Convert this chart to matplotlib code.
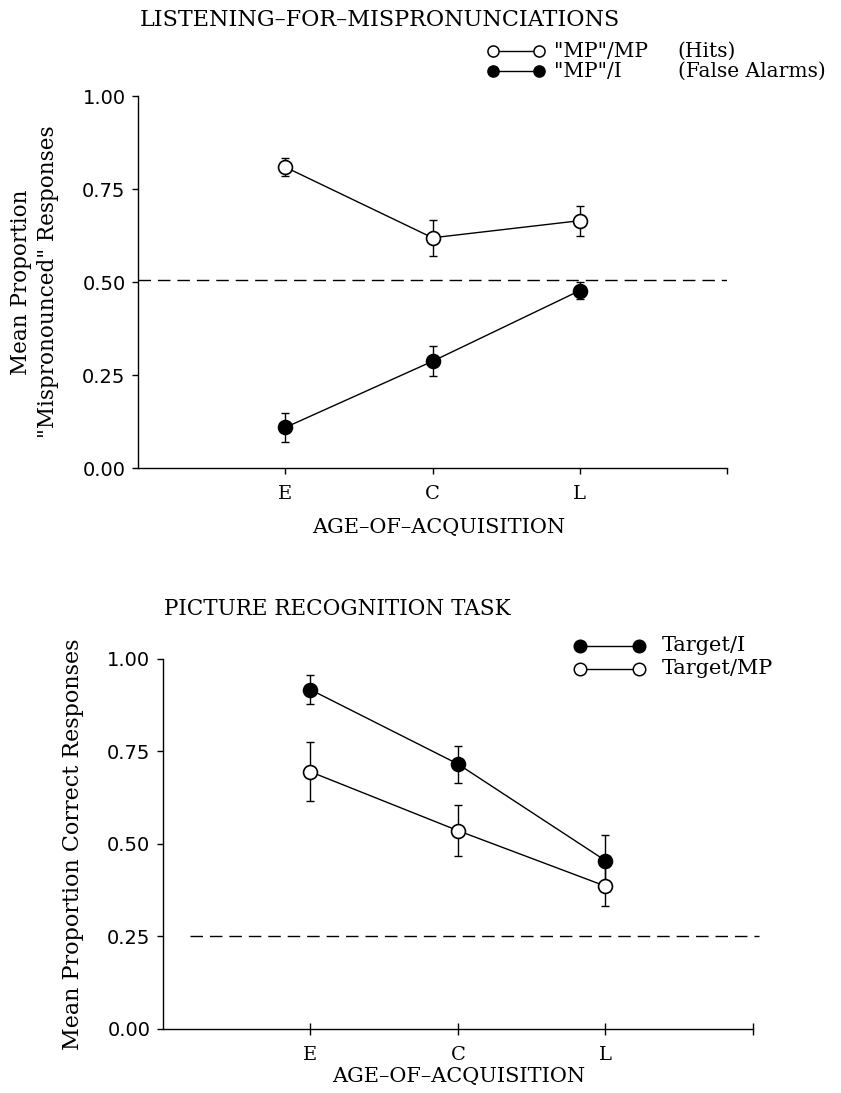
import matplotlib
matplotlib.use("Agg")
import matplotlib.pyplot as plt
from matplotlib.lines import Line2D

# age-of-acquisition groups
groups = ["E", "C", "L"]
group_pos = [1, 2, 3]

# listening-for-mispronunciations task
hits = [0.809, 0.619, 0.665]
hits_err = [0.024, 0.049, 0.040]
false_alarms = [0.109, 0.287, 0.477]
false_alarms_err = [0.040, 0.040, 0.022]
chance_top = 0.505

# picture recognition task
target_i = [0.917, 0.716, 0.455]
target_i_err = [0.040, 0.050, 0.070]
target_mp = [0.695, 0.536, 0.386]
target_mp_err = [0.080, 0.069, 0.053]
chance_bottom = 0.25

y_ticks = [0.0, 0.25, 0.5, 0.75, 1.0]
y_ticklabels = ["0.00", "0.25", "0.50", "0.75", "1.00"]

serif = "DejaVu Serif"
sans = "DejaVu Sans"

fig = plt.figure(figsize=(8.41, 10.93), dpi=100)
ax1 = fig.add_axes([0.1641, 0.5718, 0.7004, 0.3403])
ax2 = fig.add_axes([0.1938, 0.0586, 0.7015, 0.3385])


def style_axes(ax, xtick_dir):
    ax.set_xlim(0, 4)
    ax.set_ylim(0, 1)
    for side in ["top", "right"]:
        ax.spines[side].set_visible(False)
    for side in ["left", "bottom"]:
        ax.spines[side].set_linewidth(1.0)
    ax.set_xticks(group_pos + [4])
    ax.set_xticklabels(groups + [""], fontfamily=serif, fontsize=14)
    ax.set_yticks(y_ticks)
    ax.set_yticklabels(y_ticklabels, fontfamily=sans, fontsize=14)
    ax.tick_params(axis="y", direction="out", length=4, width=1, pad=5)
    if xtick_dir == "inout":
        ax.tick_params(axis="x", direction="inout", length=8, width=1, pad=8)
    else:
        ax.tick_params(axis="x", direction="out", length=4, width=1, pad=8)


def draw_series(ax, y, err, filled):
    ax.errorbar(group_pos, y, yerr=err, fmt="none", ecolor="black",
                elinewidth=1.0, capsize=3, capthick=1.0, zorder=2)
    ax.plot(group_pos, y, "-o", color="black", lw=1.0, markersize=10,
            markerfacecolor="black" if filled else "white",
            markeredgecolor="black", markeredgewidth=1.2, zorder=3,
            clip_on=False)


def legend_row(x1, x2, y, filled, size):
    fig.add_artist(Line2D([x1, x2], [y, y], transform=fig.transFigure,
                          color="black", lw=1.0, marker="o", markersize=size,
                          markerfacecolor="black" if filled else "white",
                          markeredgecolor="black", markeredgewidth=1.1))


# ---- top panel ----
style_axes(ax1, "out")
ax1.axhline(chance_top, color="black", lw=1.0, dashes=(9, 5))
draw_series(ax1, hits, hits_err, filled=False)
draw_series(ax1, false_alarms, false_alarms_err, filled=True)

fig.text(0.1665, 0.9817, "LISTENING\u2013FOR\u2013MISPRONUNCIATIONS",
         fontfamily=serif, fontsize=16, ha="left", va="center")
fig.text(0.522, 0.517, "AGE\u2013OF\u2013ACQUISITION", fontfamily=serif,
         fontsize=15, ha="center", va="center")
fig.text(0.041, 0.742, "Mean Proportion\n\"Mispronounced\" Responses",
         fontfamily=serif, fontsize=15.5, rotation=90, ha="center",
         va="center", multialignment="center", linespacing=1.3)

top_labels = ["\"MP\"/MP", "\"MP\"/I"]
top_notes = ["(Hits)", "(False Alarms)"]
for i, filled in enumerate([False, True]):
    yy = 0.9533 - i * 0.0183
    legend_row(0.5862, 0.6409, yy, filled, 8)
    fig.text(0.659, yy, top_labels[i], fontfamily=serif, fontsize=14.5,
             ha="left", va="center")
    fig.text(0.806, yy, top_notes[i], fontfamily=serif, fontsize=14.5,
             ha="left", va="center")

# ---- bottom panel ----
style_axes(ax2, "inout")
ax2.axhline(chance_bottom, xmin=0.045, xmax=1.01, color="black", lw=1.0,
            dashes=(9, 5), clip_on=False)
draw_series(ax2, target_mp, target_mp_err, filled=False)
draw_series(ax2, target_i, target_i_err, filled=True)

fig.text(0.195, 0.4428, "PICTURE RECOGNITION TASK", fontfamily=serif,
         fontsize=15.5, ha="left", va="center")
fig.text(0.545, 0.0155, "AGE\u2013OF\u2013ACQUISITION", fontfamily=serif,
         fontsize=15, ha="center", va="center")
fig.text(0.0868, 0.2278, "Mean Proportion Correct Responses",
         fontfamily=serif, fontsize=16, rotation=90, ha="center", va="center")

bottom_labels = ["Target/I", "Target/MP"]
for i, filled in enumerate([True, False]):
    yy = 0.409 - i * 0.021
    legend_row(0.6897, 0.7598, yy, filled, 9)
    fig.text(0.787, yy, bottom_labels[i], fontfamily=serif, fontsize=15,
             ha="left", va="center")

fig.savefig("out.png", dpi=100, facecolor="white")
